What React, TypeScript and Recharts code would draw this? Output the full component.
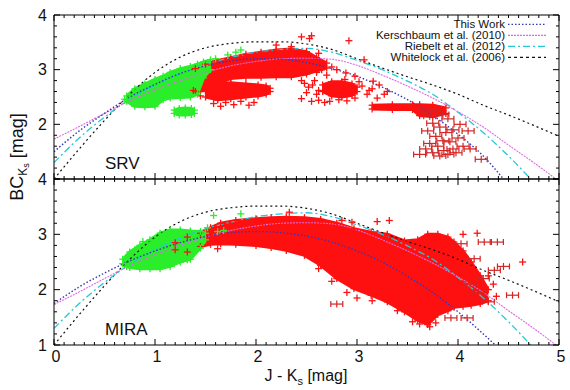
import React from 'react';
import { ComposedChart, Line, Area, Scatter, XAxis, YAxis } from 'recharts';

const FONT = '"Liberation Sans", Arial, Helvetica, sans-serif';

// ---------- relation curves ----------
const whitelockX = [0, 0.25, 0.5, 0.75, 1, 1.25, 1.5, 1.75, 2, 2.25, 2.5, 2.75, 3, 3.25, 3.5, 3.75, 4, 4.25, 4.5, 4.75, 5];
const whitelockY = [1.0, 1.55, 2.07, 2.55, 2.95, 3.23, 3.4, 3.48, 3.51, 3.51, 3.47, 3.37, 3.2, 3.03, 2.87, 2.72, 2.55, 2.35, 2.17, 1.98, 1.78];

const riebeltX = [0, 0.25, 0.5, 0.75, 1, 1.25, 1.5, 1.75, 2, 2.25, 2.5, 2.75, 3, 3.25, 3.5, 3.75, 4, 4.25, 4.5, 4.72];
const riebeltY = [1.3, 1.75, 2.13, 2.46, 2.72, 2.93, 3.1, 3.22, 3.32, 3.37, 3.39, 3.32, 3.17, 3.0, 2.79, 2.55, 2.22, 1.85, 1.42, 1.0];

const kerschX = [0, 0.25, 0.5, 0.75, 1, 1.25, 1.5, 1.75, 2, 2.25, 2.5, 2.75, 3, 3.25, 3.5, 3.75, 4, 4.25, 4.5, 4.75, 4.97];
const kerschY = [1.73, 1.96, 2.2, 2.43, 2.63, 2.8, 2.95, 3.07, 3.15, 3.2, 3.21, 3.19, 3.08, 2.9, 2.7, 2.48, 2.23, 1.95, 1.62, 1.3, 1.0];

const thisSrvX = [0, 0.25, 0.5, 0.75, 1, 1.25, 1.5, 1.75, 2, 2.25, 2.5, 2.75, 3, 3.25, 3.5, 3.75, 4, 4.25, 4.45];
const thisSrvY = [1.5, 1.88, 2.2, 2.5, 2.73, 2.93, 3.07, 3.16, 3.2, 3.19, 3.13, 3.02, 2.88, 2.68, 2.45, 2.16, 1.82, 1.42, 1.0];

const thisMiraX = [0, 0.25, 0.5, 0.75, 1, 1.25, 1.5, 1.75, 2, 2.25, 2.5, 2.75, 3, 3.25, 3.5, 3.75, 4, 4.25, 4.37];
const thisMiraY = [1.75, 2.05, 2.3, 2.52, 2.7, 2.85, 2.96, 3.03, 3.05, 3.03, 2.97, 2.86, 2.7, 2.5, 2.24, 1.95, 1.6, 1.2, 1.0];

// ---------- SRV data clouds ----------
const srvGreenX = [0.72, 0.8, 0.9, 1.0, 1.08, 1.15, 1.25, 1.35, 1.42, 1.48, 1.55];
const srvGreenLo = [2.42, 2.33, 2.32, 2.33, 2.45, 2.48, 2.49, 2.5, 2.55, 2.85, 3.0];
const srvGreenHi = [2.52, 2.65, 2.74, 2.82, 2.88, 2.95, 3.02, 3.06, 3.1, 3.14, 3.18];

const srvBlobX = [1.19, 1.24, 1.3, 1.36, 1.39];
const srvBlobLo = [2.2, 2.17, 2.17, 2.18, 2.2];
const srvBlobHi = [2.26, 2.29, 2.3, 2.29, 2.26];

const srvRedMainX = [1.4, 1.5, 1.6, 1.75, 1.9, 2.05, 2.2, 2.35, 2.5, 2.6, 2.7];
const srvRedMainLo = [2.6, 2.62, 2.72, 2.84, 2.86, 2.86, 2.87, 2.87, 2.92, 2.98, 3.03];
const srvRedMainHi = [3.02, 3.1, 3.16, 3.22, 3.28, 3.32, 3.36, 3.38, 3.33, 3.22, 3.12];

const srvRedLobeX = [1.5, 1.62, 1.75, 1.9, 2.02, 2.1, 2.14];
const srvRedLobeLo = [2.5, 2.45, 2.47, 2.5, 2.52, 2.55, 2.6];
const srvRedLobeHi = [2.66, 2.74, 2.76, 2.74, 2.72, 2.7, 2.66];

const srvRedRightX = [2.66, 2.75, 2.85, 2.95, 3.0];
const srvRedRightLo = [2.6, 2.52, 2.5, 2.53, 2.6];
const srvRedRightHi = [2.72, 2.78, 2.78, 2.74, 2.68];

const srvRedStripX = [3.15, 3.35, 3.55, 3.62, 3.75, 3.88];
const srvRedStripLo = [2.28, 2.27, 2.27, 2.16, 2.14, 2.2];
const srvRedStripHi = [2.35, 2.36, 2.36, 2.36, 2.35, 2.3];

const srvRedPts: [number, number][] = [
  [2.45, 3.6], [2.55, 3.62], [2.53, 3.57], [2.92, 3.53], [3.07, 3.18], [2.89, 2.94], [2.98, 2.88],
  [3.16, 2.79], [3.27, 2.55], [3.2, 2.48], [3.3, 2.6], [3.12, 2.62], [2.55, 2.42], [2.62, 2.44],
  [2.45, 2.47], [1.58, 2.38], [1.65, 2.33], [1.7, 2.4], [1.78, 2.36], [1.85, 2.42], [1.93, 2.35],
  [1.98, 2.4], [1.62, 2.45], [2.68, 2.4], [2.73, 2.42], [1.45, 2.52], [1.38, 2.62], [2.75, 3.05],
  [2.8, 3.0], [2.35, 3.42], [2.2, 3.45], [2.62, 3.3],
  [2.48, 2.75], [2.52, 2.68], [2.58, 2.8], [2.62, 2.62], [2.5, 2.58], [3.05, 2.7], [3.1, 2.55],
  [3.15, 2.65], [3.22, 2.72], [2.6, 2.95], [2.7, 2.9], [2.65, 3.0], [2.56, 2.72], [2.6, 2.55],
  [2.45, 2.8], [2.82, 2.45], [2.9, 2.43], [2.98, 2.48], [3.02, 2.78], [2.88, 2.82],
];
const srvRedErr: [number, number][] = [
  [3.68, 2.22], [3.72, 2.15], [3.78, 2.25], [3.85, 2.18], [3.9, 2.1], [3.75, 2.02], [3.82, 1.95],
  [3.7, 1.88], [3.88, 1.85], [3.95, 1.9], [3.78, 1.78], [3.85, 1.7], [3.72, 1.65], [3.92, 1.68],
  [3.8, 1.6], [3.68, 1.55], [3.86, 1.52], [3.95, 1.55], [3.75, 1.48], [3.62, 1.45], [3.9, 1.45],
  [3.82, 1.42], [4.0, 1.75], [4.05, 1.6], [3.98, 1.48], [4.1, 1.88], [4.12, 1.55], [4.23, 1.36],
  [4.02, 2.0], [3.66, 2.28],
];
const srvGreenPts: [number, number][] = [[1.72, 3.27], [1.85, 3.36], [1.8, 3.32], [0.7, 2.46], [1.6, 3.2]];

// ---------- MIRA data clouds ----------
const miraGreenX = [0.68, 0.75, 0.85, 0.95, 1.05, 1.15, 1.25, 1.35, 1.45, 1.5];
const miraGreenLo = [2.47, 2.4, 2.38, 2.38, 2.38, 2.42, 2.5, 2.55, 2.75, 2.9];
const miraGreenHi = [2.55, 2.68, 2.8, 2.9, 3.02, 3.08, 3.08, 3.06, 3.05, 3.02];

const miraRedX = [1.2, 1.32, 1.45, 1.55, 1.65, 1.8, 2.0, 2.15, 2.3, 2.48, 2.64, 2.8, 2.97, 3.14, 3.3, 3.47, 3.6, 3.7, 3.8, 3.9, 3.96, 4.05, 4.13, 4.22, 4.3];
const miraRedLo = [2.72, 2.68, 2.78, 2.82, 2.83, 2.82, 2.8, 2.76, 2.71, 2.62, 2.44, 2.2, 2.02, 1.9, 1.78, 1.6, 1.45, 1.37, 1.55, 1.62, 1.68, 1.7, 1.72, 1.75, 1.8];
const miraRedHi = [2.85, 2.95, 3.02, 3.12, 3.2, 3.25, 3.28, 3.3, 3.31, 3.3, 3.27, 3.2, 3.1, 3.04, 3.0, 2.88, 2.9, 3.0, 3.0, 2.95, 2.86, 2.7, 2.5, 2.25, 2.0];

const miraRedPts: [number, number][] = [
  [2.33, 3.4], [3.2, 3.23], [3.32, 3.25], [4.19, 3.02], [4.64, 2.5], [1.62, 2.74], [2.62, 2.38],
  [2.75, 2.15], [2.9, 1.95], [3.4, 1.62], [3.55, 1.42], [3.72, 1.33], [2.95, 3.22], [2.85, 3.25],
  [4.05, 3.0], [3.0, 1.85], [3.15, 1.8], [3.62, 1.38], [3.78, 1.4], [4.35, 2.1], [4.3, 2.25], [4.38, 1.88],
];
const miraRedErr: [number, number][] = [
  [2.8, 1.74], [4.03, 2.83], [4.16, 2.56], [4.36, 2.35], [4.39, 2.86], [4.54, 1.9], [4.26, 2.86],
  [3.93, 1.49], [4.09, 1.49], [4.25, 2.2], [4.3, 1.78], [4.2, 1.95], [4.12, 2.1], [4.45, 2.42],
];
const miraGreenPts: [number, number][] = [
  [1.58, 3.34], [1.85, 3.37], [1.32, 2.54], [1.19, 2.47], [1.62, 3.05], [1.68, 3.07], [1.52, 3.12],
  [0.88, 2.87], [0.8, 2.72], [0.72, 2.42],
];

// ---------- axes ----------
const xMajor = [0, 1, 2, 3, 4, 5];
const yMajor = [1, 2, 3, 4];
const xTicks = Array.from({ length: 51 }, (_, i) => Number((i / 10).toFixed(1)));
const yTicks = Array.from({ length: 16 }, (_, i) => Number((1 + i * 0.2).toFixed(1)));

const C_THIS = '#3636b8';
const C_KERSCH = '#e06ae0';
const C_RIEB = '#25c8d4';
const C_WHITE = '#111111';
const C_RED = '#ff1010';
const C_GREEN = '#2aee2a';
const C_ERR = '#d42424';

const legendItems = [
  { name: 'This Work', color: C_THIS, dash: '1.5 2' },
  { name: 'Kerschbaum et al. (2010)', color: C_KERSCH, dash: '2 1' },
  { name: 'Riebelt et al. (2012)', color: C_RIEB, dash: '7 3 2 3' },
  { name: 'Whitelock et al. (2006)', color: C_WHITE, dash: '3 3' },
];

// ---------- helpers building library tables ----------
const pts = (xs: number[], ys: number[]) => xs.map((x, i) => ({ x, y: ys[i] }));
const band = (xs: number[], lo: number[], hi: number[]) => xs.map((x, i) => ({ x, range: [lo[i], hi[i]] }));
const edges = (xs: number[], lo: number[], hi: number[]) =>
  xs.flatMap((x, i) => [{ x, y: lo[i] }, { x, y: hi[i] }]);
const pairs = (p: [number, number][]) => p.map(([x, y]) => ({ x, y }));

const isMajor = (v: number) => Math.abs(v - Math.round(v)) < 1e-6;

const plusShape = (color: string) => (p: any) => {
  const { cx, cy } = p;
  if (cx == null || cy == null) return <g />;
  const r = 3.5;
  return (
    <g stroke={color} strokeWidth={1.3}>
      <line x1={cx - r} x2={cx + r} y1={cy} y2={cy} />
      <line x1={cx} x2={cx} y1={cy - r} y2={cy + r} />
    </g>
  );
};
const errShape = (color: string) => (p: any) => {
  const { cx, cy } = p;
  if (cx == null || cy == null) return <g />;
  const e = 6;
  return (
    <g stroke={color} strokeWidth={1.2}>
      <line x1={cx - e} x2={cx + e} y1={cy} y2={cy} />
      <line x1={cx - e} x2={cx - e} y1={cy - 3} y2={cy + 3} />
      <line x1={cx + e} x2={cx + e} y1={cy - 3} y2={cy + 3} />
      <line x1={cx} x2={cx} y1={cy - 3.5} y2={cy + 3.5} />
    </g>
  );
};

const makeXTick = (dir: number, showLabel: boolean) => (p: any) => {
  const { x, y, payload } = p;
  const v = payload.value;
  const major = isMajor(v);
  const len = major ? 6 : 3;
  return (
    <g>
      <line x1={x} x2={x} y1={y} y2={y + dir * len} stroke="#000" strokeWidth={1} />
      {showLabel && major && xMajor.includes(Math.round(v)) ? (
        <text x={x + 2} y={y + 16.5} textAnchor="middle" fontSize={16} fontFamily={FONT} fill="#111">
          {Math.round(v)}
        </text>
      ) : null}
    </g>
  );
};
const makeYTick = (dir: number, labelMin: number | null) => (p: any) => {
  const { x, y, payload } = p;
  const v = payload.value;
  const major = isMajor(v);
  const len = major ? 6 : 3;
  const lab = labelMin != null && major && Math.round(v) >= labelMin && yMajor.includes(Math.round(v));
  return (
    <g>
      <line x1={x} x2={x + dir * len} y1={y} y2={y} stroke="#000" strokeWidth={1} />
      {lab ? (
        <text x={x - 7} y={y + 5.7} textAnchor="end" fontSize={16} fontFamily={FONT} fill="#111">
          {Math.round(v)}
        </text>
      ) : null}
    </g>
  );
};

function axes(showXLabels: boolean, yLabelMin: number) {
  const common = { type: 'number' as const, allowDataOverflow: true, tickLine: false, tickSize: 0, tickMargin: 0, interval: 0 as const, axisLine: { stroke: '#000', strokeWidth: 1 } };
  return [
    <XAxis key="xb" xAxisId="b" dataKey="x" domain={[0, 5]} ticks={xTicks} height={1} tick={makeXTick(-1, showXLabels)} {...common} />,
    <XAxis key="xt" xAxisId="t" orientation="top" dataKey="x" domain={[0, 5]} ticks={xTicks} height={1} tick={makeXTick(1, false)} {...common} />,
    <YAxis key="yl" yAxisId="l" domain={[1, 4]} ticks={yTicks} width={1} tick={makeYTick(1, yLabelMin)} {...common} />,
    <YAxis key="yr" yAxisId="r" orientation="right" domain={[1, 4]} ticks={yTicks} width={1} tick={makeYTick(-1, null)} {...common} />,
  ];
}

function bandArea(key: string, data: any[], color: string) {
  return (
    <Area key={key} xAxisId="b" yAxisId="l" data={data} dataKey="range" type="linear" stroke={color} strokeWidth={3}
      fill={color} fillOpacity={1} dot={false} activeDot={false} isAnimationActive={false} legendType="none" />
  );
}
function scatter(key: string, data: any[], shape: any) {
  return <Scatter key={key} xAxisId="b" yAxisId="l" data={data} dataKey="y" shape={shape} isAnimationActive={false} legendType="none" />;
}
function curves(thisData: any[]) {
  const list = [
    { k: 'whitelock', d: pts(whitelockX, whitelockY), c: C_WHITE, dash: '2 3', w: 1.2 },
    { k: 'riebelt', d: pts(riebeltX, riebeltY), c: C_RIEB, dash: '7 3 2 3', w: 1.3 },
    { k: 'kersch', d: pts(kerschX, kerschY), c: C_KERSCH, dash: '2 1', w: 1.1 },
    { k: 'this', d: thisData, c: C_THIS, dash: '1.5 2', w: 1.4 },
  ];
  return list.map((l) => (
    <Line key={l.k} xAxisId="b" yAxisId="l" data={l.d} dataKey="y" type="monotone" stroke={l.c} strokeWidth={l.w}
      strokeDasharray={l.dash} dot={false} activeDot={false} isAnimationActive={false} legendType="none" />
  ));
}

export default function App() {
  const srvRedEdge = [
    ...edges(srvRedMainX, srvRedMainLo, srvRedMainHi),
    ...edges(srvRedLobeX, srvRedLobeLo, srvRedLobeHi),
    ...edges(srvRedRightX, srvRedRightLo, srvRedRightHi),
    ...edges(srvRedStripX, srvRedStripLo, srvRedStripHi),
    ...pairs(srvRedPts),
  ];
  const srvGreenEdge = [
    ...edges(srvGreenX, srvGreenLo, srvGreenHi),
    ...edges(srvBlobX, srvBlobLo, srvBlobHi),
    ...pairs(srvGreenPts),
  ];
  const miraRedEdge = [...edges(miraRedX, miraRedLo, miraRedHi), ...pairs(miraRedPts)];
  const miraGreenEdge = [...edges(miraGreenX, miraGreenLo, miraGreenHi), ...pairs(miraGreenPts)];

  return (
    <div style={{ position: 'absolute', left: 0, top: 0, width: 570, height: 390, background: '#fff' }}>
      <div style={{ position: 'absolute', left: 0, top: 0 }}>
        <ComposedChart width={570} height={190} margin={{ top: 14, right: 10, bottom: 10, left: 53 }}>
          {axes(false, 2)}
          {bandArea('srvRedMain', band(srvRedMainX, srvRedMainLo, srvRedMainHi), C_RED)}
          {bandArea('srvRedLobe', band(srvRedLobeX, srvRedLobeLo, srvRedLobeHi), C_RED)}
          {bandArea('srvRedRight', band(srvRedRightX, srvRedRightLo, srvRedRightHi), C_RED)}
          {bandArea('srvRedStrip', band(srvRedStripX, srvRedStripLo, srvRedStripHi), C_RED)}
          {scatter('srvRedEdge', srvRedEdge, plusShape(C_RED))}
          {scatter('srvRedErr', pairs(srvRedErr), errShape(C_ERR))}
          {bandArea('srvGreen', band(srvGreenX, srvGreenLo, srvGreenHi), C_GREEN)}
          {bandArea('srvBlob', band(srvBlobX, srvBlobLo, srvBlobHi), C_GREEN)}
          {scatter('srvGreenEdge', srvGreenEdge, plusShape(C_GREEN))}
          {curves(pts(thisSrvX, thisSrvY))}
        </ComposedChart>
      </div>
      <div style={{ position: 'absolute', left: 0, top: 0 }}>
        <ComposedChart width={570} height={390} margin={{ top: 178, right: 10, bottom: 44, left: 53 }}>
          {axes(true, 1)}
          {bandArea('miraRed', band(miraRedX, miraRedLo, miraRedHi), C_RED)}
          {scatter('miraRedEdge', miraRedEdge, plusShape(C_RED))}
          {scatter('miraRedErr', pairs(miraRedErr), errShape(C_ERR))}
          {bandArea('miraGreen', band(miraGreenX, miraGreenLo, miraGreenHi), C_GREEN)}
          {scatter('miraGreenEdge', miraGreenEdge, plusShape(C_GREEN))}
          {curves(pts(thisMiraX, thisMiraY))}
        </ComposedChart>
      </div>
      <svg width={570} height={390} style={{ position: 'absolute', left: 0, top: 0, pointerEvents: 'none' }}>
        {legendItems.map((it, i) => (
          <g key={it.name}>
            <text x={505} y={28.3 + 11 * i} textAnchor="end" fontSize={11.5} fontFamily={FONT} fill="#111">{it.name}</text>
            <line x1={508} x2={546} y1={24.3 + 11 * i} y2={24.3 + 11 * i} stroke={it.color} strokeWidth={1.3} strokeDasharray={it.dash} />
          </g>
        ))}
        <text x={105} y={169} fontSize={17} fontFamily={FONT} fill="#111">SRV</text>
        <text x={105} y={335} fontSize={17} fontFamily={FONT} fill="#111">MIRA</text>
        <text x={306} y={381} textAnchor="middle" fontSize={16} fontFamily={FONT} fill="#111">
          J - K<tspan fontSize={11} dy={4}>s</tspan><tspan dy={-4}> [mag]</tspan>
        </text>
        <text transform="rotate(-90)" x={-157} y={23} textAnchor="middle" fontSize={18} fontFamily={FONT} fill="#111">
          BC<tspan fontSize={12} dy={4}>K</tspan><tspan fontSize={9} dy={2}>s</tspan><tspan dy={-6}> [mag]</tspan>
        </text>
      </svg>
    </div>
  );
}
